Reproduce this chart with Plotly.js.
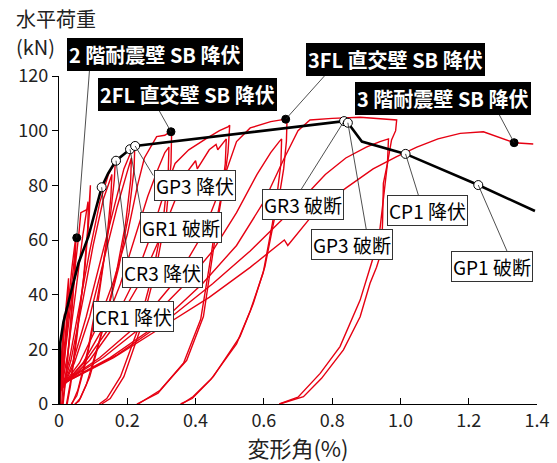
<!DOCTYPE html>
<html>
<head>
<meta charset="utf-8">
<script src="https://cdn.plot.ly/plotly-3.0.1.min.js"></script>
<style>html,body{margin:0;padding:0;background:#fff;}#chart{width:557px;height:463px;}</style>
</head>
<body>
<div id="chart"></div>
<script>
// ---- hysteresis cycles (red) : deformation angle (%) / horizontal load (kN)
const c1x = [0.000, 0.004, 0.010, 0.016, 0.014, 0.008, 0.004];
const c1y = [0, 12, 24, 33, 26, 12, 0];
const c2x = [0.002, 0.008, 0.018, 0.028, 0.026, 0.016, 0.008];
const c2y = [2, 14, 32, 46, 36, 16, 0];
const c3x = [0.003, 0.012, 0.025, 0.038, 0.050, 0.047, 0.036, 0.022, 0.012];
const c3y = [3, 16, 34, 50, 62, 50, 32, 12, 0];
const c4x = [0.004, 0.014, 0.028, 0.042, 0.048, 0.045, 0.034, 0.020, 0.010];
const c4y = [4, 16, 34, 50, 57, 46, 28, 10, 0];
const c5x = [0.005, 0.020, 0.040, 0.058, 0.064, 0.080, 0.088, 0.092, 0.089, 0.076, 0.055, 0.035, 0.022];
const c5y = [5, 20, 42, 62, 70, 71, 72, 80, 70, 50, 28, 9, 0];
const c6x = [0.006, 0.025, 0.050, 0.070, 0.085, 0.086, 0.084, 0.072, 0.052, 0.034, 0.024];
const c6y = [5, 18, 42, 62, 74, 72, 64, 46, 24, 7, 0];
const c7x = [0.008, 0.030, 0.060, 0.090, 0.120, 0.145, 0.165, 0.162, 0.148, 0.120, 0.085, 0.055, 0.038];
const c7y = [5, 16, 36, 56, 74, 84, 89, 82, 66, 44, 20, 5, 0];
const c8x = [0.009, 0.035, 0.070, 0.100, 0.130, 0.155, 0.152, 0.140, 0.115, 0.080, 0.052, 0.036];
const c8y = [5, 16, 38, 58, 75, 84, 76, 60, 38, 16, 3, 0];
const c9x = [0.010, 0.040, 0.080, 0.120, 0.160, 0.190, 0.210, 0.222, 0.220, 0.205, 0.175, 0.130, 0.090, 0.062, 0.048];
const c9y = [6, 15, 32, 52, 72, 86, 92, 95, 86, 70, 50, 28, 10, 2, 0];
const c10x = [0.011, 0.045, 0.090, 0.130, 0.170, 0.200, 0.212, 0.210, 0.195, 0.165, 0.120, 0.080, 0.058, 0.046];
const c10y = [6, 15, 32, 52, 72, 85, 90, 82, 66, 46, 24, 7, 1, 0];
const c11x = [0.012, 0.060, 0.110, 0.160, 0.200, 0.230, 0.250, 0.286, 0.310, 0.328, 0.330, 0.328, 0.315, 0.285, 0.240, 0.190, 0.150, 0.125];
const c11y = [7, 15, 28, 45, 62, 80, 90, 97.8, 98.3, 99.6, 100, 88, 70, 50, 28, 10, 2, 0];
const c12x = [0.013, 0.070, 0.130, 0.180, 0.220, 0.260, 0.290, 0.310, 0.322, 0.320, 0.306, 0.275, 0.230, 0.180, 0.140, 0.118];
const c12y = [7, 15, 28, 44, 60, 76, 86, 92, 94, 85, 68, 48, 27, 10, 2, 0];
const c13x = [0.014, 0.080, 0.160, 0.220, 0.270, 0.310, 0.340, 0.380, 0.430, 0.470, 0.496, 0.500, 0.495, 0.482, 0.466, 0.452, 0.423, 0.374, 0.296, 0.232];
const c13y = [7, 16, 30, 45, 62, 78, 88, 93, 97, 100, 101.5, 102, 92, 80, 68, 56, 32, 16, 5, 0];
const c14x = [0.015, 0.090, 0.170, 0.240, 0.300, 0.340, 0.370, 0.400, 0.405, 0.440, 0.460, 0.465, 0.485, 0.490, 0.487, 0.475, 0.458, 0.445, 0.415, 0.365, 0.290, 0.228];
const c14y = [7, 16, 30, 45, 62, 75, 84, 89, 86, 93, 95, 93, 96, 97, 88, 76, 65, 54, 31, 15, 4, 0];
const c15x = [0.015, 0.120, 0.240, 0.340, 0.420, 0.470, 0.520, 0.560, 0.620, 0.647, 0.664, 0.668, 0.666, 0.658, 0.645, 0.628, 0.613, 0.603, 0.569, 0.530, 0.452, 0.393, 0.360];
const c15y = [8, 17, 30, 45, 62, 78, 96, 101, 103.3, 103.8, 104.2, 104.5, 96, 86, 76, 66, 56, 50.2, 36.8, 24.6, 10, 2.7, 0];
const c16x = [0.016, 0.130, 0.260, 0.370, 0.450, 0.520, 0.580, 0.620, 0.645, 0.652, 0.650, 0.640, 0.625, 0.610, 0.598, 0.560, 0.520, 0.445, 0.390, 0.356];
const c16y = [8, 17, 30, 44, 56, 70, 84, 92, 96, 97, 88, 78, 66, 56, 48, 34, 22, 9, 2, 0];
const c17x = [0.018, 0.150, 0.300, 0.420, 0.520, 0.600, 0.660, 0.700, 0.735, 0.800, 0.882, 0.940, 0.975, 0.989, 0.986, 0.974, 0.962, 0.950, 0.948, 0.945, 0.930, 0.911, 0.882, 0.833, 0.769, 0.716, 0.647];
const c17y = [8, 17, 30, 44, 58, 74, 90, 100, 103.9, 104.5, 104.9, 104.5, 104, 103.9, 100, 96.6, 88, 80.7, 68, 56, 50, 44.2, 31.9, 19.8, 9.4, 2.7, 0];
const c18x = [0.020, 0.170, 0.320, 0.450, 0.560, 0.650, 0.720, 0.780, 0.840, 0.900, 0.940, 0.965, 0.962, 0.952, 0.940, 0.932, 0.921, 0.882, 0.823, 0.765, 0.700, 0.645];
const c18y = [8, 18, 31, 44, 56, 67, 76, 84, 90, 94, 96, 97, 88, 76, 64, 56, 53.9, 38, 21, 11.2, 2.5, 0];
const c19x = [0.020, 0.160, 0.300, 0.440, 0.560, 0.660, 0.670, 0.755, 0.840, 0.920, 0.989, 1.048, 1.110, 1.175, 1.243, 1.290, 1.333, 1.389];
const c19y = [8, 17, 28, 39, 50, 60, 58, 71, 79, 86, 90.5, 94, 97, 99, 99.6, 97.5, 95.6, 95.1];

// ---- skeleton curve (black)
const skelX = [0, 0.001, 0.003, 0.013, 0.032, 0.057, 0.086, 0.110, 0.125, 0.144, 0.167, 0.208, 0.223, 0.835, 0.846, 0.887, 1.015, 1.228, 1.394];
const skelY = [0, 10, 22, 30, 39, 51.5, 61.2, 72.2, 79.3, 84.4, 89.0, 93.2, 94.4, 103.5, 102.9, 96.0, 91.5, 80.1, 70.6];

// ---- events
const filledX = [0.052, 0.328, 0.664, 1.333];
const filledY = [60.8, 99.6, 104.2, 95.6];
const filledLabels = ['2 階耐震壁 SB 降伏', '2FL 直交壁 SB 降伏', '3FL 直交壁 SB 降伏', '3 階耐震壁 SB 降伏'];
const openX = [0.125, 0.167, 0.208, 0.223, 0.835, 0.846, 1.015, 1.228];
const openY = [79.3, 89.0, 93.2, 94.4, 103.5, 102.9, 91.5, 80.1];
const openLabels = ['CR1 降伏', 'CR3 降伏', 'GR1 破断', 'GP3 降伏', 'GR3 破断', 'GP3 破断', 'CP1 降伏', 'GP1 破断'];

const xTicks = [0, 0.2, 0.4, 0.6, 0.8, 1.0, 1.2, 1.4];
const xTickText = ['0', '0.2', '0.4', '0.6', '0.8', '1.0', '1.2', '1.4'];
const yTicks = [0, 20, 40, 60, 80, 100, 120];

const FONT = '"Noto Sans CJK JP", "Noto Sans", sans-serif';
const RED = 'rgb(230,0,18)';

const cycles = [[c1x,c1y],[c2x,c2y],[c3x,c3y],[c4x,c4y],[c5x,c5y],[c6x,c6y],[c7x,c7y],[c8x,c8y],[c9x,c9y],[c10x,c10y],
  [c11x,c11y],[c12x,c12y],[c13x,c13y],[c14x,c14y],[c15x,c15y],[c16x,c16y],[c17x,c17y],[c18x,c18y],[c19x,c19y]];

const traces = cycles.map(c => ({
  x: c[0], y: c[1], type: 'scatter', mode: 'lines',
  line: {color: RED, width: 1.4}, hoverinfo: 'skip', cliponaxis: true
}));
traces.push({x: skelX, y: skelY, type: 'scatter', mode: 'lines', line: {color: '#000', width: 2.6}});
traces.push({x: filledX, y: filledY, type: 'scatter', mode: 'markers',
  marker: {color: '#000', size: 8, line: {color: '#000', width: 1}}, cliponaxis: false});
traces.push({x: openX, y: openY, type: 'scatter', mode: 'markers',
  marker: {color: '#fff', size: 9, line: {color: '#000', width: 1}}, cliponaxis: false});

// label geometry (pixel offsets): [leader dx, leader dy, text dx, text dy]
const filledGeo = [[13, -171, 78, -183], [-14, -25, 17, -37], [43, -48, 110, -60], [-17, -32, -71, -44]];
const openGeo = [[12, 116, 32, 129], [12, 99, 46, 112], [12, 66, 51, 78], [19, 31, 60, 40],
  [-44, 70, -41, 83], [19, 110, 4, 122], [14, 45, 22, 57], [30, 69, 14, 81]];

const annotations = [];
function addLabel(x, y, text, g, dark) {
  annotations.push({x: x, y: y, xref: 'x', yref: 'y', text: '', showarrow: true, arrowhead: 0,
    arrowwidth: 0.8, arrowcolor: '#222', ax: g[0], ay: g[1], standoff: 0, startstandoff: 0});
  annotations.push({x: x, y: y, xref: 'x', yref: 'y', showarrow: false, xanchor: 'center', yanchor: 'middle',
    xshift: g[2], yshift: -g[3],
    text: dark ? '<b>' + text + '</b>' : text,
    font: {family: FONT, size: dark ? 20 : 19, color: dark ? '#fff' : '#000'},
    bgcolor: dark ? '#000' : '#fff', bordercolor: dark ? '#000' : '#333', borderwidth: 1, borderpad: 1});
}
filledX.forEach((x, i) => addLabel(x, filledY[i], filledLabels[i], filledGeo[i], true));
openX.forEach((x, i) => addLabel(x, openY[i], openLabels[i], openGeo[i], false));

annotations.push({xref: 'paper', yref: 'paper', x: -0.094, y: 1.175, xanchor: 'left', yanchor: 'middle',
  text: '水平荷重', showarrow: false, font: {family: FONT, size: 20, color: '#222'}});
annotations.push({xref: 'paper', yref: 'paper', x: -0.094, y: 1.09, xanchor: 'left', yanchor: 'middle',
  text: '(kN)', showarrow: false, font: {family: FONT, size: 20, color: '#222'}});

const layout = {
  width: 557, height: 463,
  margin: {l: 59, r: 20, t: 76, b: 59},
  paper_bgcolor: '#fff', plot_bgcolor: '#fff',
  showlegend: false,
  font: {family: FONT, color: '#222'},
  xaxis: {
    range: [0, 1.4], tickvals: xTicks, ticktext: xTickText,
    ticks: 'inside', ticklen: 6, tickcolor: '#000', tickwidth: 1,
    showline: true, linecolor: '#000', linewidth: 1.2, showgrid: false, zeroline: false,
    tickfont: {family: FONT, size: 18, color: '#222'},
    title: {text: '変形角(%)', font: {family: FONT, size: 22, color: '#222'}, standoff: 2}
  },
  yaxis: {
    range: [0, 120], tickvals: yTicks,
    ticks: 'outside', ticklen: 6, tickcolor: '#000', tickwidth: 1,
    showline: true, linecolor: '#000', linewidth: 1.2, showgrid: false, zeroline: false,
    tickfont: {family: FONT, size: 18, color: '#222'}
  },
  annotations: annotations
};

Plotly.newPlot('chart', traces, layout, {staticPlot: true, displayModeBar: false});
</script>
</body>
</html>
